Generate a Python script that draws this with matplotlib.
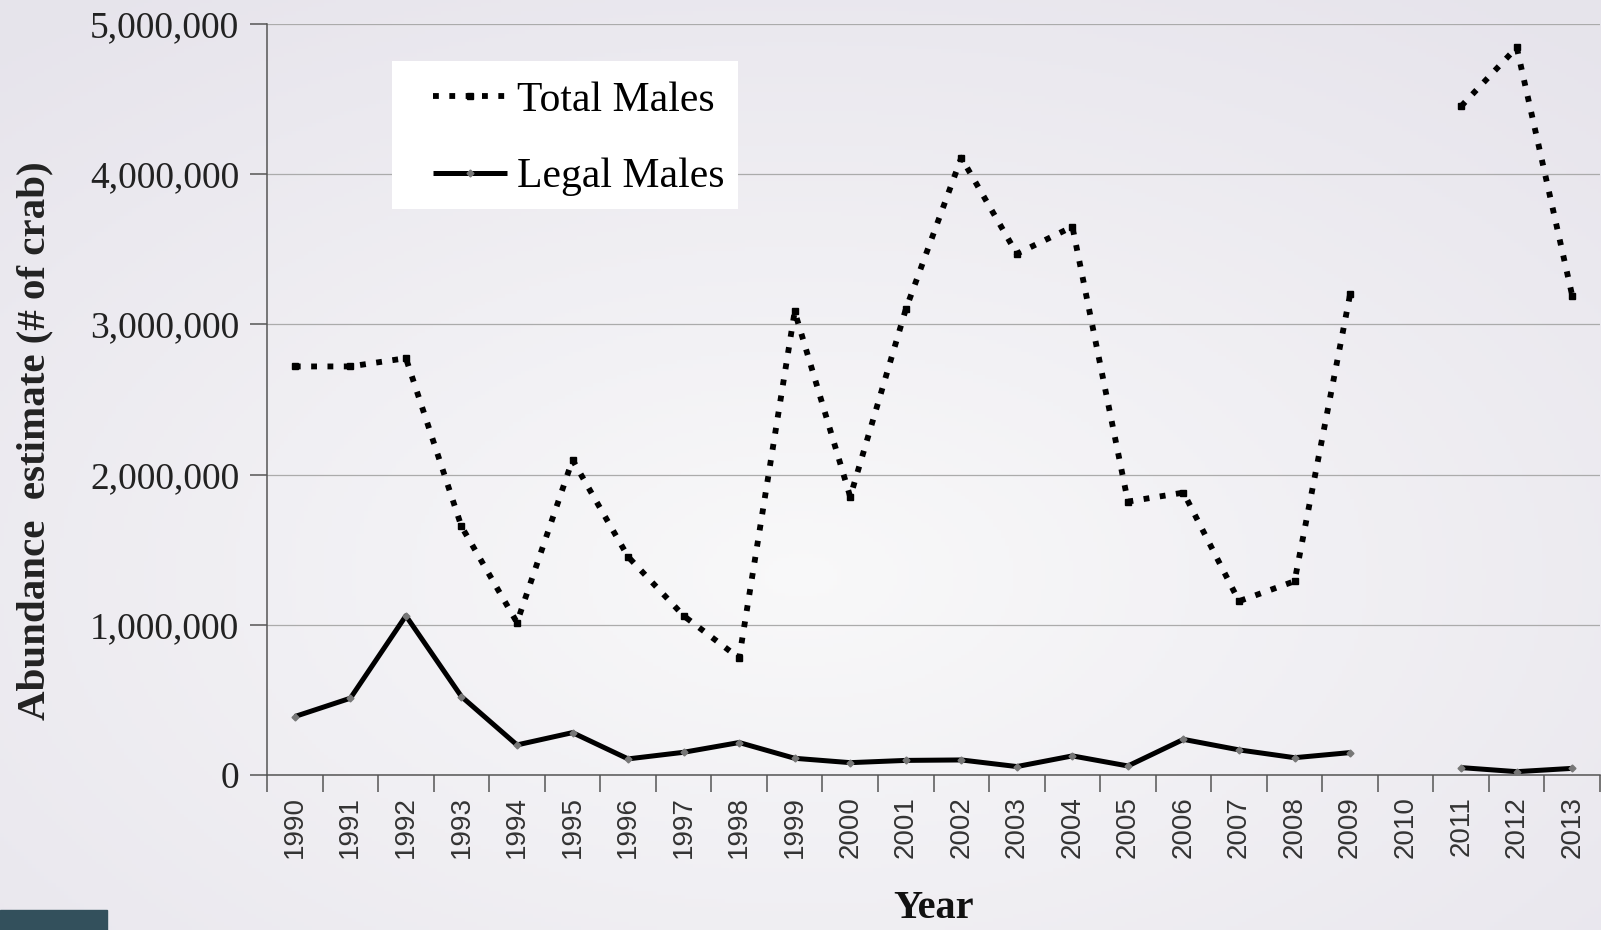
import numpy as np
import matplotlib
matplotlib.use('Agg')
import matplotlib.pyplot as plt
from matplotlib.lines import Line2D
from matplotlib.patches import Rectangle
from matplotlib.ticker import FuncFormatter, MultipleLocator

years = list(range(1990, 2014))

total_males = [2720000, 2720000, 2775000, 1655000, 1015000, 2098000, 1453000, 1060000,
               778000, 3086000, 1852000, 3100000, 4110000, 3470000, 3650000, 1820000,
               1880000, 1157000, 1290000, 3200000, np.nan, 4453000, 4844000, 3190000]

legal_males = [389000, 511000, 1060000, 522000, 200000, 282000, 107000, 151000,
               216000, 111000, 82000, 97000, 100000, 56000, 127000, 60000,
               237000, 167000, 115000, 149000, np.nan, 49000, 22000, 44000]

serif = ['Liberation Serif', 'DejaVu Serif']
sans = ['Liberation Sans', 'DejaVu Sans']

fig = plt.figure(figsize=(16.01, 9.30), dpi=100)

# slide-like background: lavender grey edges, whiter middle
bg = fig.add_axes([0, 0, 1, 1], zorder=-10)
gx, gy = np.meshgrid(np.linspace(0, 1, 400), np.linspace(0, 1, 240))
d = np.sqrt(((gx - 0.5) / 0.75) ** 2 + ((gy - 0.62) / 0.75) ** 2)
d = np.clip(d, 0, 1)
edge = np.array([0.905, 0.895, 0.925])
mid = np.array([0.975, 0.975, 0.978])
grad = mid[None, None, :] * (1 - d[..., None]) + edge[None, None, :] * d[..., None]
bg.imshow(grad, extent=[0, 1, 0, 1], aspect='auto', origin='upper')
bg.add_patch(Rectangle((0, 0), 0.067, 0.022, color='#33505c', transform=bg.transAxes))
bg.set_xlim(0, 1)
bg.set_ylim(0, 1)
bg.axis('off')

ax = fig.add_axes([0.1668, 0.1667, 0.8326, 0.8075])
ax.set_facecolor('none')

tm_style = dict(color='black', lw=4.2, linestyle=(0, (1, 1.8)), dash_capstyle='butt',
                marker='s', ms=4.5, mfc='black', mec='black')
lm_style = dict(color='black', lw=3.6, solid_capstyle='butt',
                marker='D', ms=3.5, mfc='#777777', mec='#777777')

x = np.arange(len(years))
ax.plot(x, total_males, zorder=3, **tm_style)
ax.plot(x, legal_males, zorder=3, **lm_style)

ax.set_xlim(-0.5, len(years) - 0.5)
ax.set_ylim(0, 5000000)
ax.yaxis.set_major_locator(MultipleLocator(1000000))
ax.yaxis.set_major_formatter(FuncFormatter(lambda v, p: f'{int(v):,}'))
ax.grid(axis='y', color='#ababab', lw=0.9)
ax.set_axisbelow(True)

ax.set_xticks(x)
ax.set_xticklabels([str(y) for y in years], rotation=90, fontsize=20,
                   family=sans, color='#333333')
ax.set_xticks(np.arange(-0.5, len(years)), minor=True)
ax.tick_params(axis='x', which='major', length=0, pad=15)
ax.tick_params(axis='x', which='minor', length=12, width=1.1, color='#555555')
ax.tick_params(axis='y', length=12, width=1.1, color='#555555', pad=8)
for lab in ax.get_yticklabels():
    lab.set_family(serif)
    lab.set_fontsize(27)
    lab.set_color('#222222')

for s in ['top', 'right']:
    ax.spines[s].set_visible(False)
for s in ['left', 'bottom']:
    ax.spines[s].set_color('#555555')
    ax.spines[s].set_linewidth(1.1)

ax.set_ylabel('Abundance  estimate (# of crab)', family=serif, fontsize=29.5,
              fontweight='bold', color='#222222')
ax.yaxis.set_label_coords(-0.160, 0.445)
ax.set_xlabel('Year', family=serif, fontsize=29, fontweight='bold', color='#111111',
              va='baseline')
ax.xaxis.set_label_coords(0.5, -0.19)

# white legend box
ax.add_patch(Rectangle((0.0937, 0.754), 0.2593, 0.197, transform=ax.transAxes,
                       facecolor='white', edgecolor='none', zorder=2.5))
handles = [Line2D([], [], **tm_style), Line2D([], [], **lm_style)]
ax.legend(handles, ['Total Males', 'Legal Males'], loc='upper left',
          bbox_to_anchor=(0.1244, 0.924), prop={'family': serif, 'size': 30},
          frameon=False, handlelength=1.78, handletextpad=0.24, numpoints=1,
          labelspacing=0.92, borderpad=0, borderaxespad=0)

fig.savefig('out.png', dpi=100)
